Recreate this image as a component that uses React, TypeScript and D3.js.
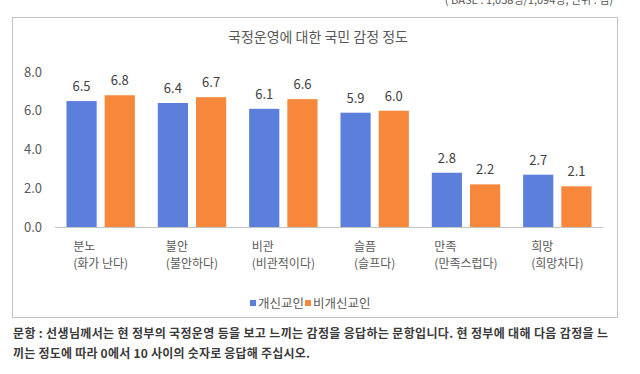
import React, { useEffect, useRef } from 'react';
import * as d3 from 'd3';

const categories = ['분노', '불안', '비관', '슬픔', '만족', '희망'];
const subLabels = ['(화가 난다)', '(불안하다)', '(비관적이다)', '(슬프다)', '(만족스럽다)', '(희망차다)'];
const seriesNames = ['개신교인', '비개신교인'];
const protestant = [6.5, 6.4, 6.1, 5.9, 2.8, 2.7];
const nonProtestant = [6.8, 6.7, 6.6, 6.0, 2.2, 2.1];
const yTicks = [0, 2, 4, 6, 8];
const colors = ['#5B7FDA', '#F7873A'];

const title = '국정운영에 대한 국민 감정 정도';
const baseNote = '( BASE : 1,058명/1,094명, 단위 : 점)';
const footLines = [
  '문항 : 선생님께서는 현 정부의 국정운영 등을 보고 느끼는 감정을 응답하는 문항입니다. 현 정부에 대해 다음 감정을 느',
  '끼는 정도에 따라 0에서 10 사이의 숫자로 응답해 주십시오.',
];

const FONT = '"Noto Sans CJK KR", "Noto Sans", sans-serif';

export default function App() {
  const ref = useRef<SVGSVGElement>(null);

  useEffect(() => {
    const width = 640,
      height = 374;
    const svg = d3.select(ref.current);
    svg.selectAll('*').remove();
    svg.attr('width', width).attr('height', height).style('font-family', FONT);

    svg.append('rect').attr('width', width).attr('height', height).attr('fill', '#fff');

    // header note, cut off at the top edge like the screenshot
    svg.append('text')
      .attr('x', 613)
      .attr('y', 4)
      .attr('text-anchor', 'end')
      .attr('font-size', 11)
      .attr('fill', '#555')
      .text(baseNote);

    // frame
    svg.append('rect')
      .attr('x', 12.5)
      .attr('y', 17.5)
      .attr('width', 605)
      .attr('height', 300)
      .attr('fill', 'none')
      .attr('stroke', '#c4c4c4');

    svg.append('text')
      .attr('x', 318)
      .attr('y', 42)
      .attr('text-anchor', 'middle')
      .attr('font-size', 14)
      .attr('fill', '#595959')
      .text(title);

    const x0 = d3.scaleBand().domain(categories).range([55, 603]).padding(0);
    const x1 = d3.scaleBand().domain(seriesNames).range([0, x0.bandwidth()]).paddingInner(0.21).paddingOuter(0.3);
    const y = d3.scaleLinear().domain([0, 8]).range([227, 72]);

    // y axis labels
    svg.append('g')
      .selectAll('text')
      .data(yTicks)
      .join('text')
      .attr('x', 42)
      .attr('y', (d) => y(d))
      .attr('dy', '0.35em')
      .attr('text-anchor', 'end')
      .attr('font-size', 13)
      .attr('fill', '#595959')
      .text((d) => d3.format('.1f')(d));

    const series = [protestant, nonProtestant];

    const groups = svg.append('g')
      .selectAll('g')
      .data(categories)
      .join('g')
      .attr('transform', (d) => 'translate(' + x0(d) + ',0)');

    groups.selectAll('rect')
      .data((d, i) => series.map((s, k) => ({ key: seriesNames[k], value: s[i], k })))
      .join('rect')
      .attr('x', (d) => x1(d.key)!)
      .attr('y', (d) => y(d.value))
      .attr('width', x1.bandwidth())
      .attr('height', (d) => y(0) - y(d.value))
      .attr('fill', (d) => colors[d.k]);

    groups.selectAll('text.value')
      .data((d, i) => series.map((s, k) => ({ key: seriesNames[k], value: s[i] })))
      .join('text')
      .attr('class', 'value')
      .attr('x', (d) => x1(d.key)! + x1.bandwidth() / 2)
      .attr('y', (d) => y(d.value) - 10)
      .attr('text-anchor', 'middle')
      .attr('font-size', 13)
      .attr('fill', '#404040')
      .text((d) => d3.format('.1f')(d.value));

    // x axis line
    svg.append('line')
      .attr('x1', 55)
      .attr('x2', 603)
      .attr('y1', 227.5)
      .attr('y2', 227.5)
      .attr('stroke', '#c4c4c4');

    // category labels: two lines, left aligned, block centred on the band
    categories.forEach((c, i) => {
      const cx = x0(c)! + x0.bandwidth() / 2;
      const l2 = svg.append('text')
        .attr('font-size', 12)
        .attr('fill', '#595959')
        .attr('y', 267.5)
        .text(subLabels[i]);
      const w = (l2.node() as SVGTextElement).getComputedTextLength();
      const left = cx - w / 2;
      l2.attr('x', left);
      svg.append('text')
        .attr('font-size', 12)
        .attr('fill', '#595959')
        .attr('x', left)
        .attr('y', 250.5)
        .text(c);
    });

    // legend
    const legend = svg.append('g').attr('font-size', 12.5).attr('fill', '#595959');
    let lx = 250;
    seriesNames.forEach((name, k) => {
      legend.append('rect')
        .attr('x', lx)
        .attr('y', 300)
        .attr('width', 6)
        .attr('height', 6)
        .attr('fill', colors[k]);
      const t = legend.append('text')
        .attr('x', lx + 8)
        .attr('y', 307.5)
        .text(name);
      lx += 8 + (t.node() as SVGTextElement).getComputedTextLength() + 1;
    });

    // footnote
    svg.append('text')
      .attr('x', 13)
      .attr('y', 337.5)
      .attr('font-size', 12)
      .attr('font-weight', 'bold')
      .attr('fill', '#3a3a3a')
      .attr('textLength', 595)
      .attr('lengthAdjust', 'spacing')
      .text(footLines[0]);
    svg.append('text')
      .attr('x', 13)
      .attr('y', 357.5)
      .attr('font-size', 12)
      .attr('font-weight', 'bold')
      .attr('fill', '#3a3a3a')
      .attr('textLength', 297)
      .attr('lengthAdjust', 'spacing')
      .text(footLines[1]);
  }, []);

  return (
    <div style={{ position: 'absolute', left: 0, top: 0 }}>
      <svg ref={ref} style={{ display: 'block' }} />
    </div>
  );
}
